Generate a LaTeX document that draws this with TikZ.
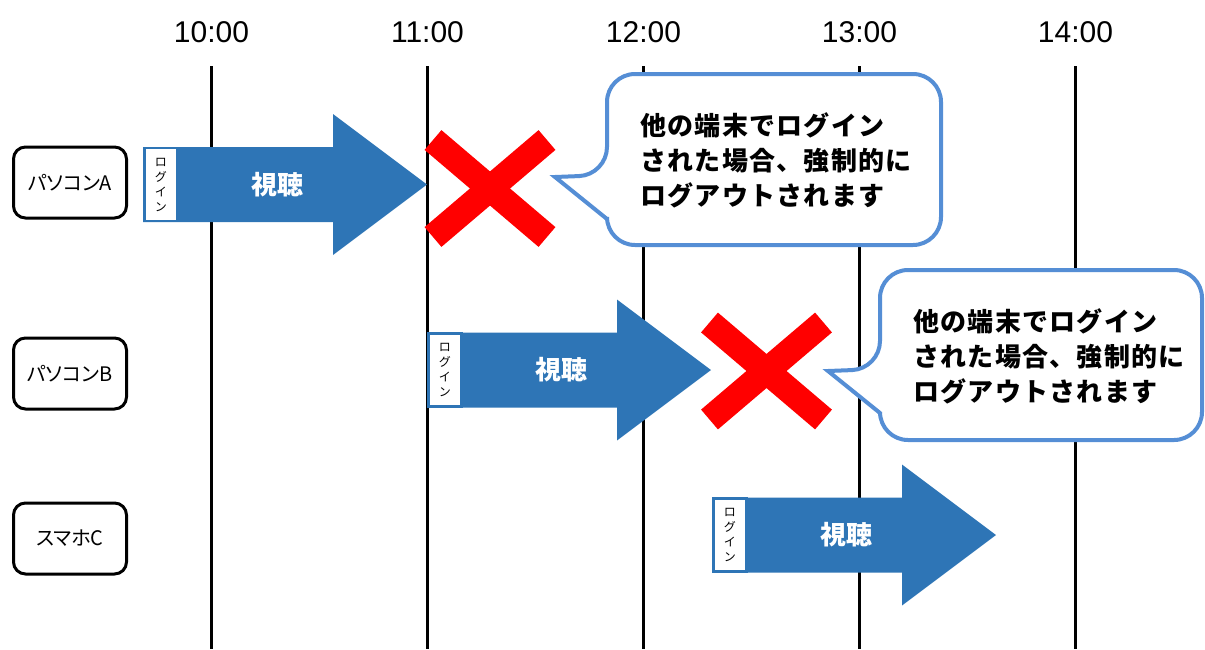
\documentclass[tikz,border=0pt]{standalone}
\usepackage{fontspec}
\setmainfont{Liberation Sans}
\newfontfamily\jp{Noto Sans CJK JP}
\newfontfamily\jpprop[RawFeature=+palt]{Noto Sans CJK JP}
\newfontfamily\jpwide[LetterSpace=5]{Noto Sans CJK JP}
\usetikzlibrary{positioning}
\definecolor{viewblue}{HTML}{2E75B6}
\definecolor{tipblue}{HTML}{558ED5}
\definecolor{crossred}{HTML}{FF0000}
\tikzset{%
  time label/.style={
    font=\fontsize{30}{34}\selectfont
  },
  hour line/.style={
    line width=3pt
  },
  every device/.style={
    draw,
    line width=3pt,
    rounded corners=12pt,
    minimum width=113pt,
    minimum height=71pt,
    font=\jpprop\fontsize{20}{24}\selectfont
  },
  login box/.style={
    draw=viewblue,
    fill=white,
    line width=2.5pt,
    minimum width=33pt,
    minimum height=73pt,
    inner sep=0pt,
    align=center,
    font=\jp\fontsize{12}{15}\selectfont
  },
  view label/.style={
    text=white,
    font=\jp\bfseries\fontsize{26}{30}\selectfont
  },
  cross line/.style={
    draw=crossred,
    line width=26pt
  },
  callout/.style={
    draw=tipblue,
    fill=white,
    line width=4pt
  },
  warning text/.style={
    align=left,
    inner sep=0pt,
    font=\jpwide\bfseries\fontsize{26}{35}\selectfont
  },
}

\begin{document}
\begin{tikzpicture}[x=1pt, y=-1pt]
    \useasboundingbox (0,0) rectangle (1205,649);

    \foreach \t [count=\i from 0] in {10,11,12,13,14}
    {
        \node [time label] (time-\t) at (211.5+\i*216, 32) {\t:00};
        \coordinate (top-\t) at (211.5+\i*216, 66);
        \coordinate (bottom-\t) at (211.5+\i*216, 649);
        \draw [hour line] (top-\t) -- (bottom-\t);
    }

    \foreach \n/\l/\y in {pcA/パソコンA/182.5, pcB/パソコンB/373.5, phoneC/スマホC/538.5}
    \node [every device] (\n) at (70,\y) {\l};

    \foreach \n/\x/\c in {a/143/184.5, b/427/370, c/712/535}
    {
        \fill [viewblue] (\x,\c-37.5) -- ++(190,0) -- ++(0,-33) -- (\x+284,\c)
            -- (\x+190,\c+70.5) -- ++(0,-33) -- (\x,\c+37.5) -- cycle;
        \node [login box] (login-\n) at (\x+17.75,\c) {ロ\\グ\\イ\\ン};
        \node [view label] (view-\n) at (\x+134,\c) {視聴};
    }

    \foreach \n/\x/\y in {a/490/188.5, b/766.5/371}
    {
        \coordinate (cross-\n) at (\x,\y);
        \draw [cross line] (\x-57,\y-48.5) -- (\x+57,\y+48.5);
        \draw [cross line] (\x-57,\y+48.5) -- (\x+57,\y-48.5);
    }

    \foreach \n/\l/\r/\t/\b/\tx/\ty in {a/607/941/74/245/555/177, b/880/1202/270/440/828/371}
    {
        \filldraw [callout] (\tx,\ty) -- (\l,\ty+42) [rounded corners=28pt]
            -- (\l,\b) -- (\r,\b) -- (\r,\t) -- (\l,\t) -- (\l,\ty-2)
            [sharp corners] -- cycle;
        \node [warning text, anchor=west] (warn-\n) at ({\l+33},{(\t+\b)/2+1})
            {他の端末でログイン\\された場合、強制的に\\ログアウトされます};
    }

\end{tikzpicture}
\end{document}
